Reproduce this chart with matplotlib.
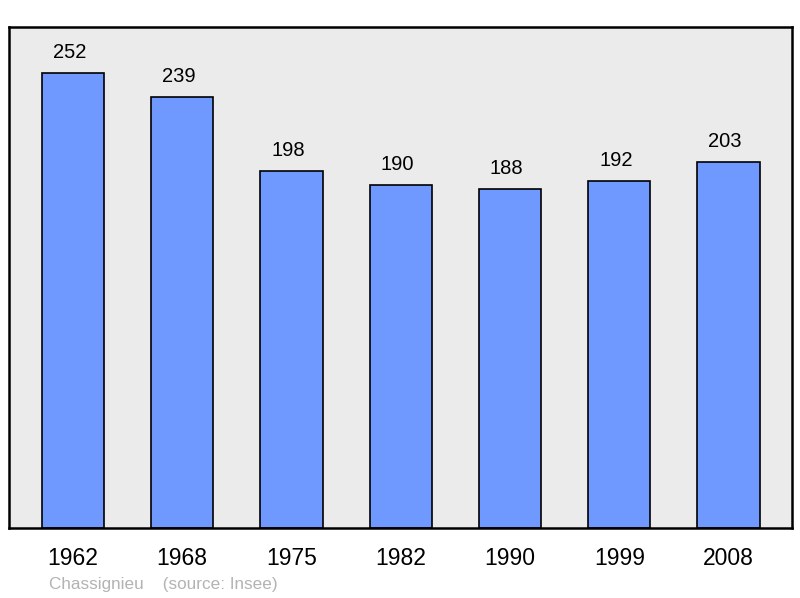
import numpy as np
import matplotlib
matplotlib.use('Agg')
from matplotlib import pyplot as plt

years = ['1962', '1968', '1975', '1982', '1990', '1999', '2008']
population = [252, 239, 198, 190, 188, 192, 203]

plt.rcParams['font.family'] = ['Liberation Sans', 'DejaVu Sans']

fig = plt.figure(figsize=(8.0, 5.98), dpi=100)
ax = fig.add_axes([9/800, 1-528/598, 783/800, 501/598])
ax.set_facecolor('#ebebeb')

x = np.arange(len(years))
ax.bar(x, population, width=0.57, color='#7099ff', edgecolor='black', linewidth=1.2, zorder=2)
for xi, v in zip(x, population):
    ax.annotate(str(v), (xi, v), xytext=(-3.5, 11), textcoords='offset pixels',
                ha='center', va='bottom', fontsize=14.5)

ax.set_xlim(-0.585, 6.58)
ax.set_ylim(0, 277.5)
ax.set_xticks(x)
ax.set_xticklabels(years, fontsize=16.5)
ax.tick_params(axis='x', length=0, pad=14)
ax.set_yticks([])
for s in ax.spines.values():
    s.set_linewidth(1.8)

fig.text(49/800, 1-584/598, 'Chassignieu    (source: Insee)', fontsize=12.3, color='#b3b3b3', va='center')

fig.savefig('out.png', dpi=100)
